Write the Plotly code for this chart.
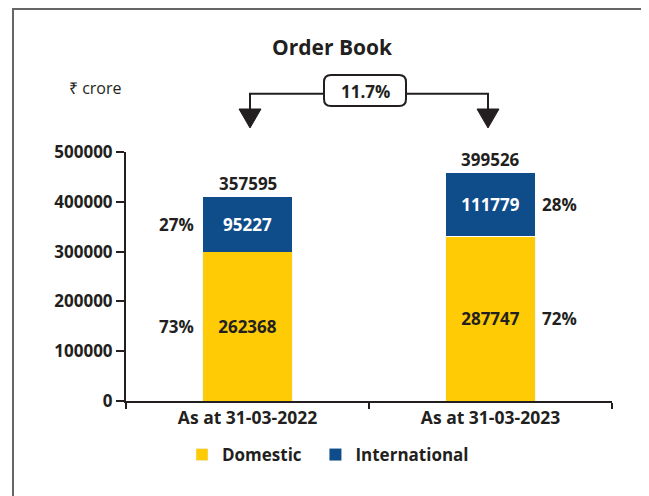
import plotly.graph_objects as go

categories = ["As at 31-03-2022", "As at 31-03-2023"]
# heights of the segments as drawn in the chart (the drawing is not to the printed values)
domestic_height = [300000, 330000]
international_height = [110000, 128000]
# printed values
domestic_label = ["262368", "287747"]
international_label = ["95227", "111779"]
total_label = ["357595", "399526"]
domestic_pct = ["73%", "72%"]
international_pct = ["27%", "28%"]
growth_label = "11.7%"

YELLOW = "#FFCB05"
BLUE = "#0F4C8A"
DARK = "#231F20"
FONT = "Open Sans"
OFF = 8  # page margin of the html body

# plot area in screen pixels: x 126..612, y 152..401
L, R, T, B = 126, 612, 152, 401


def px_x(x):
    return (x - L) / (R - L)


def px_y(y):
    return (B - y) / (B - T)


def bold(size, color=DARK):
    return dict(size=size, color=color, family=FONT, weight="bold")


fig = go.Figure()
fig.add_trace(go.Bar(
    name="Domestic" + "\u00a0" * 2, x=categories, y=domestic_height, marker_color=YELLOW,
    text=domestic_label, textposition="inside", insidetextanchor="middle",
    textangle=0, textfont=bold(17),
    width=0.37, hoverinfo="skip",
))
fig.add_trace(go.Bar(
    name="International", x=categories, y=international_height,
    marker=dict(color=BLUE, line=dict(color="white", width=[0, 1])),
    text=international_label, textposition="inside", insidetextanchor="middle",
    textangle=0, textfont=bold(17, "white"),
    width=0.37, hoverinfo="skip",
))

annotations = []
sides = [-71, 69]
for i, cat in enumerate(categories):
    d, n = domestic_height[i], international_height[i]
    annotations.append(dict(x=cat, y=d + n, text=total_label[i], showarrow=False,
                            yanchor="bottom", font=bold(17)))
    annotations.append(dict(x=cat, y=d / 2, text=domestic_pct[i], showarrow=False, xshift=sides[i],
                            font=bold(17)))
    annotations.append(dict(x=cat, y=d + n / 2, text=international_pct[i], showarrow=False, xshift=sides[i],
                            font=bold(17)))

annotations.append(dict(xref="paper", yref="paper", x=px_x(365), y=px_y(91), text=growth_label,
                        xanchor="center", yanchor="middle", showarrow=False, font=bold(17)))
annotations.append(dict(xref="paper", yref="paper", x=px_x(67), y=px_y(88), xanchor="left", yanchor="middle",
                        text="₹ crore", showarrow=False, font=dict(size=16, color=DARK, family=FONT)))

shapes = []
# outer frame
shapes.append(dict(type="rect", xref="paper", yref="paper", x0=px_x(13), x1=px_x(645),
                   y0=px_y(9), y1=px_y(520), line=dict(color="#666666", width=2)))
# growth connector
ly = px_y(93.7)
shapes.append(dict(type="path", xref="paper", yref="paper",
                   path=f"M{px_x(324)},{ly} L{px_x(250)},{ly} L{px_x(250)},{px_y(111)}",
                   line=dict(color=DARK, width=2)))
shapes.append(dict(type="path", xref="paper", yref="paper",
                   path=f"M{px_x(406)},{ly} L{px_x(488)},{ly} L{px_x(488)},{px_y(111)}",
                   line=dict(color=DARK, width=2)))
for cx in (250, 488):
    shapes.append(dict(type="path", xref="paper", yref="paper",
                       path=f"M{px_x(cx - 11)},{px_y(109)} L{px_x(cx + 11)},{px_y(109)} L{px_x(cx)},{px_y(128)} Z",
                       fillcolor=DARK, line=dict(color=DARK, width=1)))
# rounded box
x0, x1, y0, y1, r = 324, 406, 75, 106, 7
box = (f"M{px_x(x0 + r)},{px_y(y0)} L{px_x(x1 - r)},{px_y(y0)} Q{px_x(x1)},{px_y(y0)} {px_x(x1)},{px_y(y0 + r)} "
       f"L{px_x(x1)},{px_y(y1 - r)} Q{px_x(x1)},{px_y(y1)} {px_x(x1 - r)},{px_y(y1)} "
       f"L{px_x(x0 + r)},{px_y(y1)} Q{px_x(x0)},{px_y(y1)} {px_x(x0)},{px_y(y1 - r)} "
       f"L{px_x(x0)},{px_y(y0 + r)} Q{px_x(x0)},{px_y(y0)} {px_x(x0 + r)},{px_y(y0)} Z")
shapes.append(dict(type="path", xref="paper", yref="paper", path=box, line=dict(color=DARK, width=2)))

fig.update_layout(
    width=649, height=496,
    margin=dict(l=L - OFF, r=649 - (R - OFF), t=T - OFF, b=496 - (B - OFF), autoexpand=False),
    paper_bgcolor="white", plot_bgcolor="white",
    barmode="stack",
    title=dict(text="Order Book", x=(332 - OFF) / 649, xanchor="center", y=1 - (48 - OFF) / 496,
               yanchor="middle", font=bold(21)),
    font=dict(family=FONT, color=DARK),
    showlegend=True,
    legend=dict(orientation="h", x=px_x(182), xanchor="left", y=px_y(455), yanchor="middle",
                font=bold(17), itemwidth=30, traceorder="normal"),
    annotations=annotations,
    shapes=shapes,
)
fig.update_xaxes(showline=True, linecolor=DARK, linewidth=2, ticks="outside", tickson="boundaries",
                 ticklen=6, tickwidth=2, tickcolor=DARK, showgrid=False, tickfont=bold(17.5))
fig.update_yaxes(range=[0, 500000], tickvals=[0, 100000, 200000, 300000, 400000, 500000],
                 showline=True, linecolor=DARK, linewidth=2, ticks="outside", ticklen=8, tickwidth=2,
                 tickcolor=DARK, showgrid=False, zeroline=False, tickformat="d", tickfont=bold(17))

fig.write_html("out.html")
